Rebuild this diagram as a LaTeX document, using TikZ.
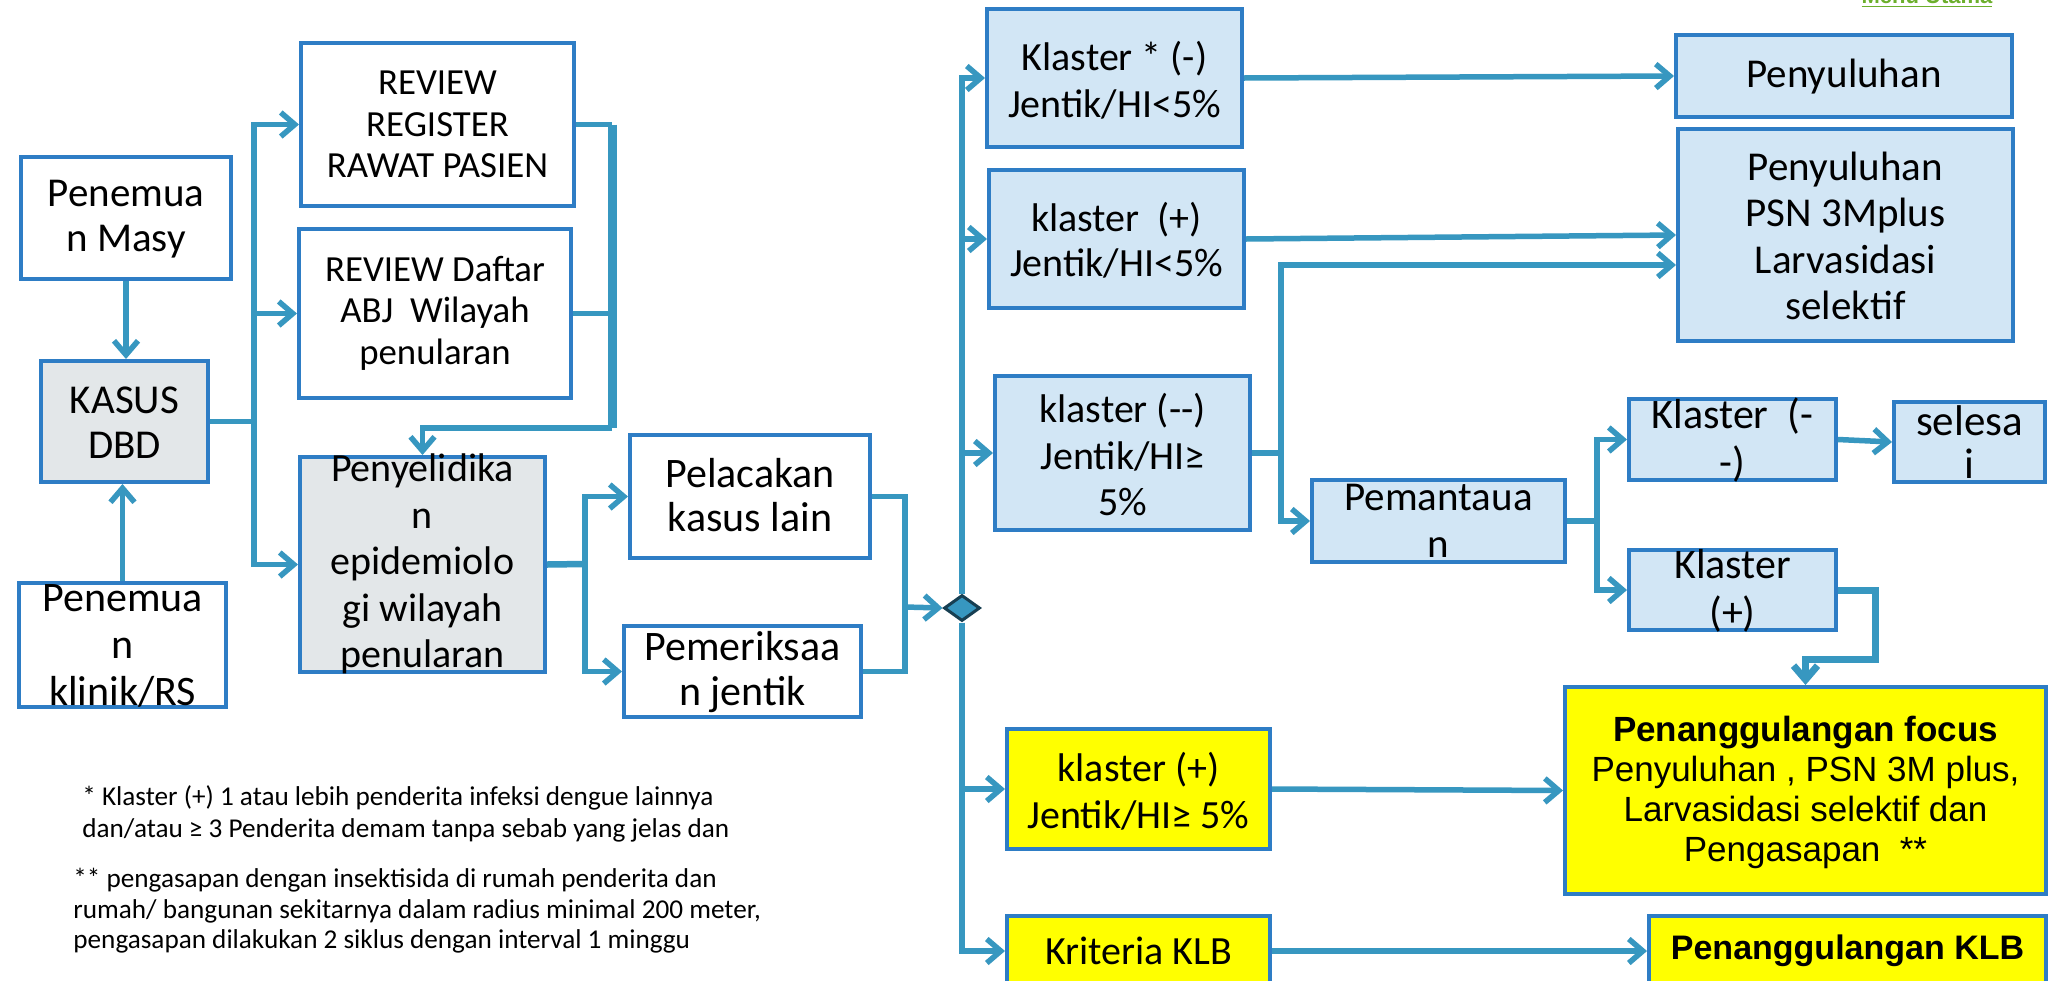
\documentclass[tikz,border=0pt]{standalone}
\usepackage{fontspec}
\setmainfont{Carlito}
\newfontfamily\arialf{Liberation Sans}
\usetikzlibrary{arrows.meta,shapes.geometric,calc}
\definecolor{bxline}{HTML}{2E7DC5}
\definecolor{cnline}{HTML}{3797C0}
\definecolor{bluefill}{HTML}{D2E6F5}
\definecolor{grayfill}{HTML}{E3E7E9}
\definecolor{yel}{HTML}{FFFF00}
\definecolor{linkgreen}{HTML}{6CAF2C}
\definecolor{diaedge}{HTML}{173F52}
\newcommand\myfs[2]{\fontsize{#1}{#2}\selectfont}
% name, style, cx, cy, w, h, text-y, font, text
\newcommand\mybox[9]{%
  \node[box,#2,minimum width={#5*0.5pt},minimum height={#6*0.5pt}] (#1) at (#3,#4) {};
  \node[txt,font={#8}] (#1t) at (#3,#7) {#9};}
\begin{document}
\begin{tikzpicture}[x=0.5pt,y=-0.5pt,
  box/.style={draw=bxline,line width=2pt,rectangle,inner sep=0pt},
  txt/.style={inner sep=0pt,align=center,text=black},
  cn/.style={draw=cnline,line width=2.75pt},
  arr/.style={-{Straight Barb[length=7pt,width=12pt]}},
  blue/.style={fill=bluefill},
  grey/.style={fill=grayfill},
  yell/.style={fill=yel},
  plain/.style={fill=white},
  note/.style={inner sep=0pt,anchor=base west,font={\myfs{13.6}{16}}}]
\useasboundingbox (0,0) rectangle (2048,980);
\clip (0,0) rectangle (2048,980);
\fill[white] (0,0) rectangle (2048,980);

% link
\node[inner sep=0pt,anchor=base,text=linkgreen,font={\arialf\bfseries\myfs{11}{13}}] (menu) at (1927,3) {\underline{Menu Utama}};

% left part
\mybox{masy}{plain}{126}{218}{210}{122}{219.5}{\myfs{20.5}{22.5}}{Penemua\\n Masy}
\mybox{kasus}{grey}{124.5}{421.5}{167}{121}{422.5}{\myfs{20.5}{22.5}}{KASUS\\DBD}
\mybox{reg}{plain}{437.5}{124.5}{273}{163}{124.7}{\myfs{18.4}{20.75}}{REVIEW\\REGISTER\\RAWAT PASIEN}
\mybox{abj}{plain}{435}{313.5}{272}{169}{313}{\myfs{18.4}{20.75}}{REVIEW Daftar\\ABJ\ \ Wilayah\\penularan}
\mybox{peny}{grey}{422.5}{564.5}{245}{215}{564}{\myfs{20}{23.25}}{Penyelidika\\n\\epidemiolo\\gi wilayah\\penularan}
\mybox{klinik}{plain}{122.5}{645}{207}{124}{646}{\myfs{21}{23.5}}{Penemua\\n\\klinik/RS}
\mybox{pelac}{plain}{750}{496.5}{240}{123}{495}{\myfs{21}{22}}{Pelacakan\\kasus lain}
\mybox{pemer}{plain}{742.5}{671.5}{237}{91}{672}{\myfs{21}{22.5}}{Pemeriksaa\\n jentik}

% right part
\mybox{k1}{blue}{1114.5}{78}{255}{138}{80}{\myfs{20}{23.5}}{Klaster * (-)\\Jentik/HI<5\%}
\mybox{k2}{blue}{1116.5}{239}{255}{138}{240}{\myfs{20}{22.25}}{klaster\ \ (+)\\Jentik/HI<5\%}
\mybox{k3}{blue}{1122.5}{453}{255}{154}{455}{\myfs{20}{23.25}}{klaster (-{}-)\\Jentik/HI≥\\5\%}
\mybox{peny1}{blue}{1844}{76}{336}{82}{77}{\myfs{20.5}{23.25}}{Penyuluhan}
\mybox{peny2}{blue}{1845.5}{235}{335}{212}{236}{\myfs{20.5}{23.25}}{Penyuluhan\\PSN 3Mplus\\Larvasidasi\\selektif}
\mybox{pemant}{blue}{1438.5}{521}{253}{82}{521}{\myfs{20.5}{23.5}}{Pemantaua\\n}
\mybox{kminus}{blue}{1732.5}{439.5}{207}{81}{440}{\myfs{21}{24}}{Klaster\ \ (-\\-)}
\mybox{selesai}{blue}{1969.5}{442}{151}{80}{442}{\myfs{21.5}{21.5}}{selesa\\i}
\mybox{kplus}{blue}{1732.5}{590}{207}{80}{591}{\myfs{21}{24}}{Klaster\\(+)}
\mybox{ky}{yell}{1138.5}{789}{263}{120}{791}{\myfs{20}{23.5}}{klaster (+)\\Jentik/HI≥ 5\%}
\mybox{focus}{yell}{1805.5}{790.5}{481}{207}{792}{\arialf\myfs{17.5}{20}}{\textbf{Penanggulangan focus}\\Penyuluhan , PSN 3M plus,\\Larvasidasi selektif dan\\Pengasapan\ \ **}
\mybox{kklb}{yell}{1138.5}{951}{263}{70}{951}{\myfs{20}{23}}{Kriteria KLB}
\mybox{pklb}{yell}{1847.5}{951}{397}{70}{951}{\arialf\myfs{17}{20}}{\textbf{Penanggulangan KLB}}

% notes
\node[note] (n1a) at (82,805) {* Klaster (+) 1 atau lebih penderita infeksi dengue lainnya};
\node[note] (n1b) at (82,837) {dan/atau ≥ 3 Penderita demam tanpa sebab yang jelas dan};
\node[note] (n2a) at (73,887) {** pengasapan dengan insektisida di rumah penderita dan};
\node[note] (n2b) at (73,918) {rumah/ bangunan sekitarnya dalam radius minimal 200 meter,};
\node[note] (n2c) at (73,948) {pengasapan dilakukan 2 siklus dengan interval 1 minggu};

% connectors left
\draw[cn,arr] (masy.south) -- (masy.south |- kasus.north);
\draw[cn,arr] (klinik.north) -- (klinik.north |- kasus.south);
\coordinate (trk) at (254,422);
\draw[cn] (kasus.east) -- (kasus.east -| trk);
\draw[cn,arr] (trk) |- (reg.west);
\draw[cn,arr] (trk) |- (abj.west);
\draw[cn,arr] (trk) |- (peny.west);
\coordinate (col) at (612,428);
\draw[cn] (reg.east) -- (reg.east -| col);
\draw[cn] (abj.east) -- (abj.east -| col);
\draw[cn,line width=4.5pt] (reg.east -| col) -- (col);
\draw[cn,arr] (col) -| (peny.north);
\coordinate (pb) at (585,564);
\draw[cn,line width=3.25pt] (peny.east) -- (pb);
\draw[cn,arr] (pb) |- (pelac.west);
\draw[cn,arr] (pb) |- (pemer.west);
\coordinate (jn) at (905,607);
\draw[cn] (pelac.east) -| (jn);
\draw[cn] (pemer.east) -| (jn);

% diamond
\node[diamond,draw=diaedge,fill=cnline,line width=1.5pt,inner sep=0pt,minimum width=18pt,minimum height=13pt] (dia) at (962,608) {};
\draw[cn,arr] (jn) -- (dia.west);

% trunk
\draw[cn,arr] (dia.north) |- (k1.west);
\draw[cn,arr] (dia.north) |- (k2.west);
\draw[cn,arr] (dia.north) |- (k3.west);
\draw[cn,arr] (dia.south) |- (ky.west);
\draw[cn,arr] (dia.south) |- (kklb.west);

% connectors right
\draw[cn,arr] (k1.east) -- (peny1.west);
\draw[cn,arr] (k2.east) -- (peny2.west);
\coordinate (k3b) at (1281,453);
\draw[cn,line width=3.25pt] (k3.east) -- (k3b);
\draw[cn,arr] (k3b) |- ([yshift=-15pt]peny2.west);
\draw[cn,arr] (k3b) |- (pemant.west);
\coordinate (pmb) at (1597,521);
\draw[cn,line width=3.25pt] (pemant.east) -- (pmb);
\draw[cn,arr] (pmb) |- (kminus.west);
\draw[cn,arr] (pmb) |- (kplus.west);
\draw[cn,arr] (kminus.east) -- (selesai.west);
\coordinate (kpb) at (1875,659);
\draw[cn,line width=3.5pt,arr] (kplus.east) -| (kpb) -| (focus.north);
\draw[cn,arr] (ky.east) -- (focus.west);
\draw[cn,arr] (kklb.east) -- (pklb.west);
\end{tikzpicture}
\end{document}
